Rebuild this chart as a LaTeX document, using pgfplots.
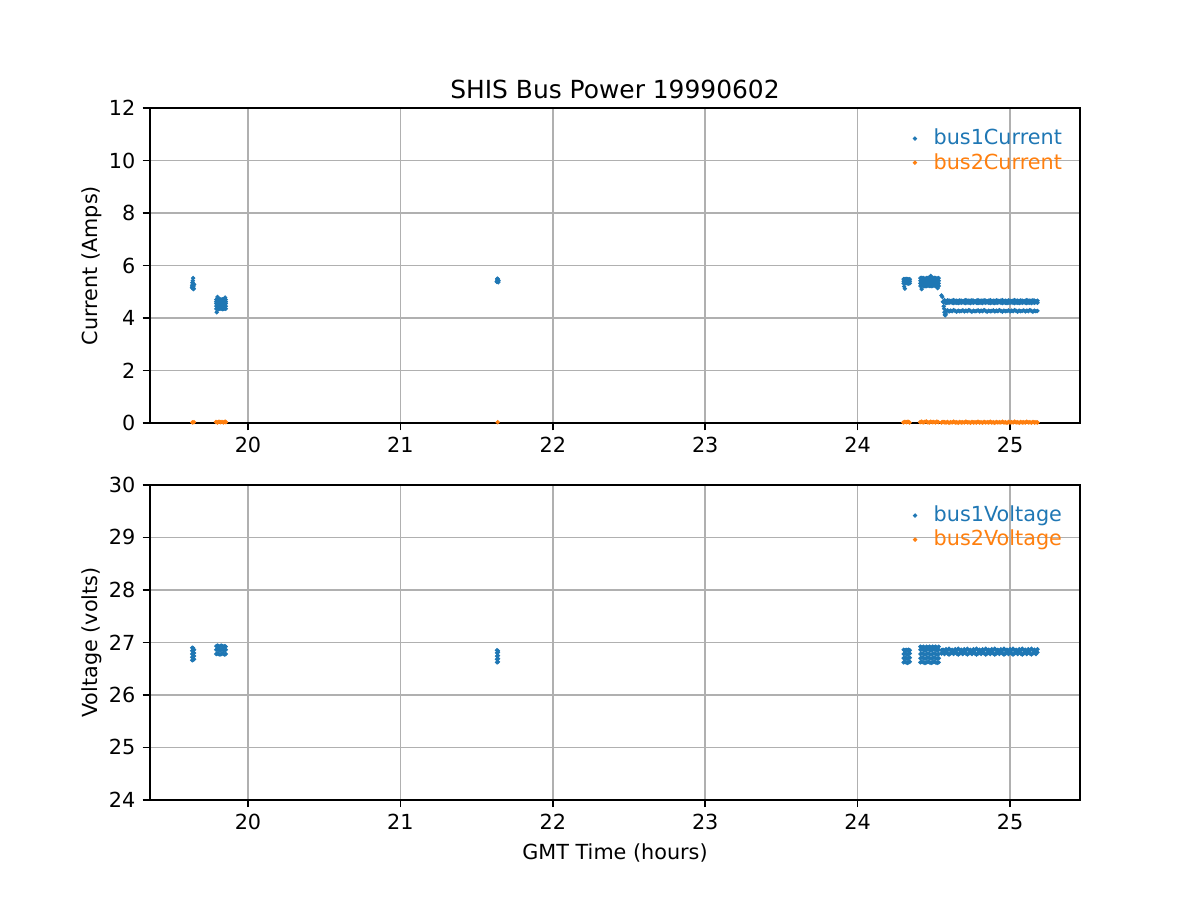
\documentclass[border=0pt]{standalone}
\usepackage{fontspec}
\setmainfont{DejaVu Sans}
\usepackage{pgfplots}
\usepackage{pgfplotstable}
\pgfplotsset{compat=1.18}
\definecolor{tabblue}{RGB}{31,119,180}
\definecolor{taborange}{RGB}{255,127,14}
\definecolor{gridc}{RGB}{176,176,176}

% current band after 24.58 h: x, bus1 upper rows (a,b), bus1 lower row (c), bus2 (d)
\pgfplotstableread{
x a b c d
24.58 4.57 4.65 4.27 0.02
24.59 4.59 4.67 4.29 0.04
24.60 4.58 4.66 4.25 0.01
24.61 4.60 4.64 4.28 0.03
24.62 4.58 4.66 4.26 0.02
24.63 4.57 4.68 4.30 0.05
24.64 4.59 4.65 4.27 0.02
24.65 4.58 4.66 4.24 0.03
24.66 4.57 4.65 4.28 0.01
24.67 4.59 4.67 4.26 0.04
24.68 4.58 4.66 4.27 0.02
24.69 4.60 4.64 4.29 0.03
24.70 4.58 4.66 4.25 0.02
24.71 4.57 4.68 4.28 0.05
24.72 4.59 4.65 4.26 0.02
24.73 4.58 4.66 4.30 0.03
24.74 4.57 4.65 4.27 0.01
24.75 4.59 4.67 4.24 0.04
24.76 4.58 4.66 4.28 0.02
24.77 4.60 4.64 4.26 0.03
24.78 4.58 4.66 4.27 0.02
24.79 4.57 4.68 4.29 0.05
24.80 4.59 4.65 4.25 0.02
24.81 4.58 4.66 4.28 0.03
24.82 4.57 4.65 4.26 0.01
24.83 4.59 4.67 4.30 0.04
24.84 4.58 4.66 4.27 0.02
24.85 4.60 4.64 4.24 0.03
24.86 4.58 4.66 4.28 0.02
24.87 4.57 4.68 4.26 0.05
24.88 4.59 4.65 4.27 0.02
24.89 4.58 4.66 4.29 0.03
24.90 4.57 4.65 4.25 0.01
24.91 4.59 4.67 4.28 0.04
24.92 4.58 4.66 4.26 0.02
24.93 4.60 4.64 4.30 0.03
24.94 4.58 4.66 4.27 0.02
24.95 4.57 4.68 4.24 0.05
24.96 4.59 4.65 4.28 0.02
24.97 4.58 4.66 4.26 0.03
24.98 4.57 4.65 4.27 0.01
24.99 4.59 4.67 4.29 0.04
25.00 4.58 4.66 4.25 0.02
25.01 4.60 4.64 4.28 0.03
25.02 4.58 4.66 4.26 0.02
25.03 4.57 4.68 4.30 0.05
25.04 4.59 4.65 4.27 0.02
25.05 4.58 4.66 4.24 0.03
25.06 4.57 4.65 4.28 0.01
25.07 4.59 4.67 4.26 0.04
25.08 4.58 4.66 4.27 0.02
25.09 4.60 4.64 4.29 0.03
25.10 4.58 4.66 4.25 0.02
25.11 4.57 4.68 4.28 0.05
25.12 4.59 4.65 4.26 0.02
25.13 4.58 4.66 4.30 0.03
25.14 4.57 4.65 4.27 0.01
25.15 4.59 4.67 4.24 0.04
25.16 4.58 4.66 4.28 0.02
25.17 4.60 4.64 4.26 0.03
25.18 4.58 4.66 4.27 0.02
}\curband

% voltage band after 24.55 h: x, bus1 rows (a,b)
\pgfplotstableread{
x a b
24.55 26.79 26.85
24.56 26.80 26.86
24.57 26.78 26.84
24.58 26.81 26.87
24.59 26.79 26.85
24.60 26.77 26.88
24.61 26.79 26.85
24.62 26.80 26.86
24.63 26.78 26.84
24.64 26.81 26.87
24.65 26.79 26.85
24.66 26.77 26.88
24.67 26.79 26.85
24.68 26.80 26.86
24.69 26.78 26.84
24.70 26.81 26.87
24.71 26.79 26.85
24.72 26.77 26.88
24.73 26.79 26.85
24.74 26.80 26.86
24.75 26.78 26.84
24.76 26.81 26.87
24.77 26.79 26.85
24.78 26.77 26.88
24.79 26.79 26.85
24.80 26.80 26.86
24.81 26.78 26.84
24.82 26.81 26.87
24.83 26.79 26.85
24.84 26.77 26.88
24.85 26.79 26.85
24.86 26.80 26.86
24.87 26.78 26.84
24.88 26.81 26.87
24.89 26.79 26.85
24.90 26.77 26.88
24.91 26.79 26.85
24.92 26.80 26.86
24.93 26.78 26.84
24.94 26.81 26.87
24.95 26.79 26.85
24.96 26.77 26.88
24.97 26.79 26.85
24.98 26.80 26.86
24.99 26.78 26.84
25.00 26.81 26.87
25.01 26.79 26.85
25.02 26.77 26.88
25.03 26.79 26.85
25.04 26.80 26.86
25.05 26.78 26.84
25.06 26.81 26.87
25.07 26.79 26.85
25.08 26.77 26.88
25.09 26.79 26.85
25.10 26.80 26.86
25.11 26.78 26.84
25.12 26.81 26.87
25.13 26.79 26.85
25.14 26.77 26.88
25.15 26.79 26.85
25.16 26.80 26.86
25.17 26.78 26.84
25.18 26.81 26.87
}\voltband

\pgfplotsset{
  shisaxis/.style={
    scale only axis,
    width=6.2in, height=2.1in,
    xmin=19.357, xmax=25.459,
    xtick={20,21,22,23,24,25},
    axis line style={line width=0.8pt},
    tick style={black, line width=0.8pt},
    tick align=outside,
    major tick length=3.5pt,
    xtick pos=bottom, ytick pos=left,
    grid=major,
    major grid style={gridc, line width=0.8pt},
    ticklabel style={font=\fontsize{10}{12}\selectfont},
    /pgf/number format/assume math mode=true,
    every axis y label/.style={at={(axis description cs:-0.0569,0.5)}, rotate=90, anchor=base, font=\fontsize{10}{12}\selectfont},
    every axis x label/.style={at={(axis description cs:0.5,0)}, anchor=base, yshift=-28.8pt, font=\fontsize{10}{12}\selectfont},
    every axis title/.style={at={(axis description cs:0.5,1)}, anchor=base, yshift=4.8pt, font=\fontsize{12}{14}\selectfont},
    legend style={draw=none, fill=none, at={(1,1)}, anchor=north east,
      xshift=-3.5pt, yshift=-6pt, font=\fontsize{10}{12}\selectfont,
      row sep=-1.5pt},
    legend cell align=left,
    legend image code/.code={\path[draw=none] (-10pt,0pt) -- (7pt,0pt); \draw[only marks] plot coordinates {(0pt,0pt)};},
    b1/.style={only marks, mark=*, mark size=0.85pt, color=tabblue},
    b2/.style={only marks, mark=*, mark size=0.85pt, color=taborange},
  }
}

\begin{document}
\begin{tikzpicture}
\path[use as bounding box] (0,0) rectangle (8in,6in);

% ---------------- top: current ----------------
\begin{axis}[shisaxis,
  at={(1in,3.18in)}, anchor=south west,
  ymin=0, ymax=12, ytick={0,2,4,6,8,10,12},
  ylabel={Current (Amps)},
  title={SHIS Bus Power 19990602},
]
\addplot[b1] coordinates {
(19.632,5.15)(19.634,5.25)(19.636,5.20)(19.638,5.30)(19.640,5.18)(19.642,5.22)
(19.644,5.12)(19.646,5.28)(19.638,5.42)(19.640,5.52)(19.636,5.35)(19.642,5.10)
(19.792,4.35)(19.792,4.45)(19.792,4.55)(19.792,4.62)(19.792,4.70)
(19.800,4.36)(19.800,4.46)(19.800,4.54)(19.800,4.63)(19.800,4.71)
(19.808,4.34)(19.808,4.44)(19.808,4.56)(19.808,4.64)(19.808,4.70)
(19.816,4.35)(19.816,4.45)(19.816,4.55)(19.816,4.62)(19.816,4.72)
(19.824,4.36)(19.824,4.46)(19.824,4.54)(19.824,4.63)(19.824,4.70)
(19.832,4.34)(19.832,4.44)(19.832,4.56)(19.832,4.64)(19.832,4.71)
(19.840,4.35)(19.840,4.45)(19.840,4.55)(19.840,4.62)(19.840,4.70)
(19.848,4.36)(19.848,4.46)(19.848,4.54)(19.848,4.63)(19.848,4.72)
(19.854,4.35)(19.854,4.45)(19.854,4.55)(19.854,4.62)(19.854,4.70)
(19.795,4.22)(19.850,4.78)(19.800,4.80)
(21.632,5.38)(21.635,5.45)(21.638,5.40)(21.640,5.48)(21.642,5.36)(21.636,5.50)(21.644,5.42)
(24.302,5.32)(24.302,5.40)(24.302,5.48)(24.310,5.32)(24.310,5.40)(24.310,5.48)
(24.318,5.33)(24.318,5.41)(24.318,5.49)(24.326,5.32)(24.326,5.40)(24.326,5.48)
(24.334,5.31)(24.334,5.39)(24.334,5.47)(24.342,5.32)(24.342,5.40)(24.342,5.48)
(24.310,5.12)(24.305,5.20)
(24.412,5.22)(24.412,5.32)(24.412,5.42)(24.412,5.52)
(24.422,5.23)(24.422,5.33)(24.422,5.43)(24.422,5.53)
(24.432,5.22)(24.432,5.32)(24.432,5.42)(24.432,5.52)
(24.442,5.21)(24.442,5.31)(24.442,5.41)(24.442,5.51)
(24.452,5.22)(24.452,5.32)(24.452,5.42)(24.452,5.52)
(24.462,5.23)(24.462,5.33)(24.462,5.43)(24.462,5.53)
(24.472,5.22)(24.472,5.32)(24.472,5.42)(24.472,5.52)
(24.482,5.21)(24.482,5.31)(24.482,5.41)(24.482,5.51)
(24.492,5.22)(24.492,5.32)(24.492,5.42)(24.492,5.52)
(24.502,5.23)(24.502,5.33)(24.502,5.43)(24.502,5.53)
(24.512,5.22)(24.512,5.32)(24.512,5.42)(24.512,5.52)
(24.522,5.21)(24.522,5.31)(24.522,5.41)(24.522,5.51)
(24.532,5.22)(24.532,5.32)(24.532,5.42)(24.532,5.52)
(24.420,5.10)(24.480,5.60)(24.525,5.14)
(24.550,4.86)(24.556,4.80)(24.560,4.62)(24.565,4.45)(24.568,4.35)(24.570,4.22)
(24.572,4.12)(24.575,4.10)(24.578,4.15)(24.580,4.25)(24.565,4.60)(24.570,4.68)
};
\addlegendentry[text=tabblue]{bus1Current}
\addplot[b1, forget plot] table[x=x, y=a] {\curband};
\addplot[b1, forget plot] table[x=x, y=b] {\curband};
\addplot[b1, forget plot] table[x=x, y=c] {\curband};
\addplot[b2] coordinates {
(19.635,0.02)(19.645,0.03)
(19.790,0.04)(19.800,0.02)(19.810,0.05)(19.820,0.03)(19.830,0.04)(19.840,0.02)(19.850,0.05)(19.855,0.03)
(21.638,0.03)
(24.300,0.02)(24.310,0.04)(24.320,0.03)(24.330,0.05)(24.340,0.02)
(24.410,0.03)(24.420,0.05)(24.430,0.02)(24.440,0.04)(24.450,0.06)(24.460,0.03)(24.470,0.02)
(24.480,0.05)(24.490,0.03)(24.500,0.04)(24.510,0.02)(24.520,0.05)(24.530,0.03)
(24.550,0.02)(24.560,0.04)(24.570,0.03)
};
\addlegendentry[text=taborange]{bus2Current}
\addplot[b2, forget plot] table[x=x, y=d] {\curband};
\end{axis}

% ---------------- bottom: voltage ----------------
\begin{axis}[shisaxis,
  at={(1in,0.667in)}, anchor=south west,
  ymin=24, ymax=30, ytick={24,25,26,27,28,29,30},
  ylabel={Voltage (volts)},
  xlabel={GMT Time (hours)},
]
\addplot[b1] coordinates {
(19.634,26.66)(19.634,26.72)(19.634,26.78)(19.634,26.84)(19.634,26.90)
(19.640,26.67)(19.640,26.73)(19.640,26.79)(19.640,26.85)(19.640,26.89)
(19.646,26.68)(19.646,26.74)(19.646,26.80)(19.646,26.86)
(19.792,26.78)(19.792,26.86)(19.792,26.93)
(19.800,26.79)(19.800,26.87)(19.800,26.94)
(19.808,26.78)(19.808,26.86)(19.808,26.93)
(19.816,26.77)(19.816,26.85)(19.816,26.92)
(19.824,26.78)(19.824,26.86)(19.824,26.94)
(19.832,26.79)(19.832,26.87)(19.832,26.93)
(19.840,26.78)(19.840,26.86)(19.840,26.92)
(19.848,26.77)(19.848,26.85)(19.848,26.93)
(19.854,26.78)(19.854,26.86)(19.854,26.92)
(21.634,26.62)(21.634,26.68)(21.634,26.74)(21.634,26.80)(21.634,26.85)
(21.640,26.63)(21.640,26.69)(21.640,26.75)(21.640,26.81)(21.640,26.84)
(24.302,26.62)(24.302,26.70)(24.302,26.78)(24.302,26.86)
(24.310,26.63)(24.310,26.71)(24.310,26.79)(24.310,26.85)
(24.318,26.62)(24.318,26.70)(24.318,26.78)(24.318,26.86)
(24.326,26.61)(24.326,26.69)(24.326,26.77)(24.326,26.85)
(24.334,26.62)(24.334,26.70)(24.334,26.78)(24.334,26.86)
(24.342,26.63)(24.342,26.71)(24.342,26.79)(24.342,26.85)
(24.412,26.62)(24.412,26.70)(24.412,26.78)(24.412,26.86)(24.412,26.92)
(24.422,26.63)(24.422,26.71)(24.422,26.79)(24.422,26.87)(24.422,26.91)
(24.432,26.62)(24.432,26.70)(24.432,26.78)(24.432,26.86)(24.432,26.92)
(24.442,26.61)(24.442,26.69)(24.442,26.77)(24.442,26.85)(24.442,26.90)
(24.452,26.62)(24.452,26.70)(24.452,26.78)(24.452,26.86)(24.452,26.92)
(24.462,26.63)(24.462,26.71)(24.462,26.79)(24.462,26.87)(24.462,26.91)
(24.472,26.62)(24.472,26.70)(24.472,26.78)(24.472,26.86)(24.472,26.92)
(24.482,26.61)(24.482,26.69)(24.482,26.77)(24.482,26.85)(24.482,26.90)
(24.492,26.62)(24.492,26.70)(24.492,26.78)(24.492,26.86)(24.492,26.92)
(24.502,26.63)(24.502,26.71)(24.502,26.79)(24.502,26.87)(24.502,26.91)
(24.512,26.62)(24.512,26.70)(24.512,26.78)(24.512,26.86)(24.512,26.92)
(24.522,26.61)(24.522,26.69)(24.522,26.77)(24.522,26.85)(24.522,26.90)
(24.532,26.62)(24.532,26.70)(24.532,26.78)(24.532,26.86)(24.532,26.92)
};
\addlegendentry[text=tabblue]{bus1Voltage}
\addplot[b1, forget plot] table[x=x, y=a] {\voltband};
\addplot[b1, forget plot] table[x=x, y=b] {\voltband};
\addplot[b2] coordinates {
(19.640,0.0)(19.820,0.0)(21.638,0.0)(24.320,0.0)(24.470,0.0)(24.800,0.0)(25.100,0.0)
};
\addlegendentry[text=taborange]{bus2Voltage}
\end{axis}
\end{tikzpicture}
\end{document}
